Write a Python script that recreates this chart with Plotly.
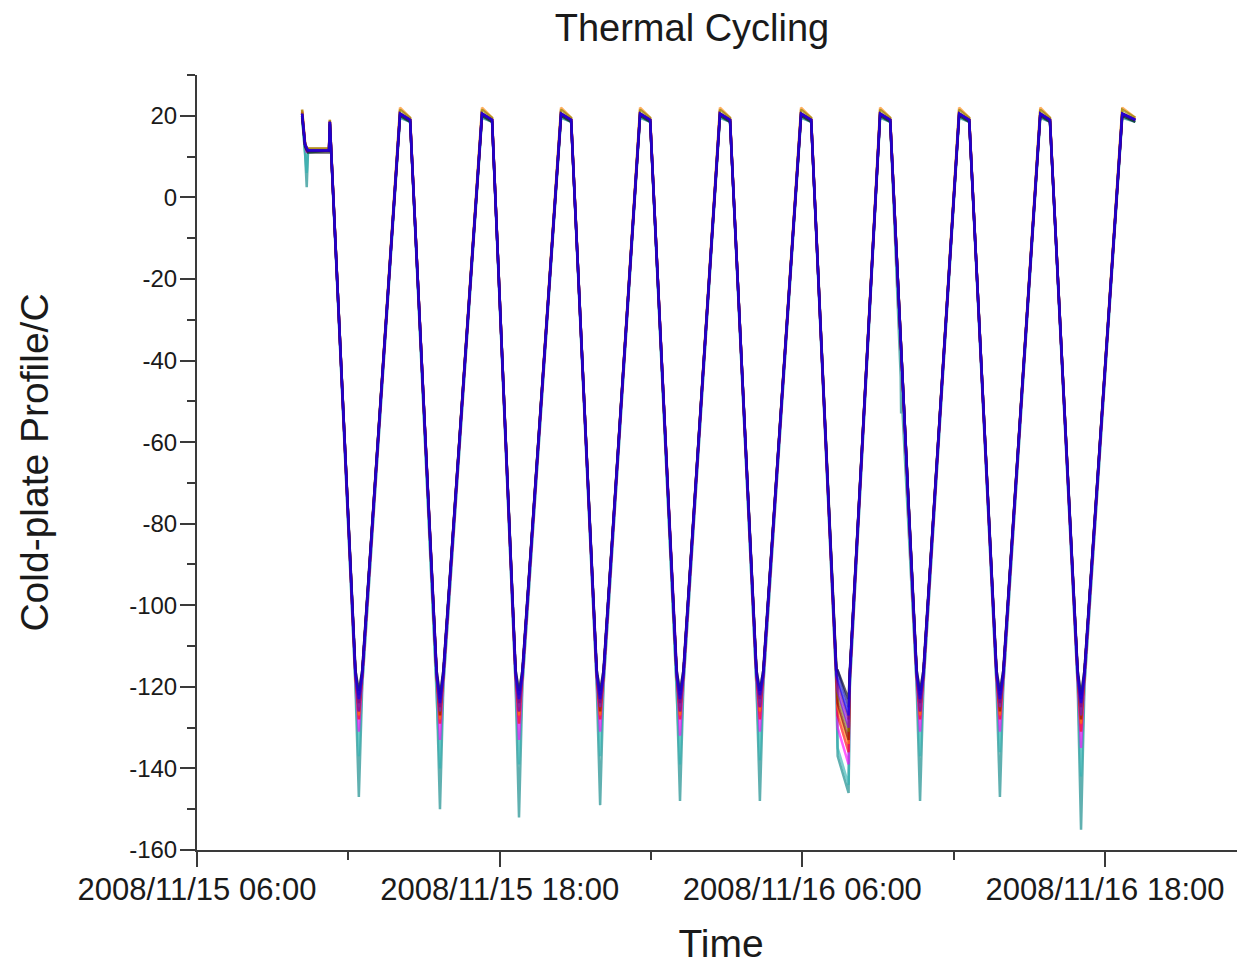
import pandas as pd
import plotly.graph_objects as go

# ---------------- data ----------------
start_times = ["2008-11-15 10:10", "2008-11-15 10:17", "2008-11-15 10:21",
               "2008-11-15 10:24", "2008-11-15 11:14", "2008-11-15 11:16"]

trough_times = ["2008-11-15 12:25", "2008-11-15 15:38", "2008-11-15 18:46",
                "2008-11-15 21:59", "2008-11-16 01:09", "2008-11-16 04:19",
                "2008-11-16 07:37", "2008-11-16 10:40", "2008-11-16 13:50",
                "2008-11-16 17:03"]
trough_knee_min = [8, 8, 8, 8, 8, 8, 3, 8, 8, 8]      # minutes from knee to minimum
trough_hold_min = [0, 0, 0, 0, 0, 0, 26, 0, 0, 0]     # minutes spent near minimum
trough_hold_drift = [0, 0, 0, 0, 0, 0, 9, 0, 0, 0]    # degrees drifted while held

peak_start_times = ["2008-11-15 14:03", "2008-11-15 17:18", "2008-11-15 20:26",
                    "2008-11-15 23:34", "2008-11-16 02:44", "2008-11-16 05:57",
                    "2008-11-16 09:05", "2008-11-16 12:13", "2008-11-16 15:26",
                    "2008-11-16 18:41"]
peak_end_times = ["2008-11-15 14:27", "2008-11-15 17:42", "2008-11-15 20:50",
                  "2008-11-15 23:58", "2008-11-16 03:08", "2008-11-16 06:21",
                  "2008-11-16 09:29", "2008-11-16 12:37", "2008-11-16 15:49",
                  "2008-11-16 19:12"]

# channels drawn bottom -> top
ch_names = ["Teal", "Cyan", "Magenta", "Red", "Orange", "Wine",
            "Olive", "Violet", "Black", "Navy", "Purple", "Blue"]
ch_colors = ["#008080", "#2FB2B2", "#FF00FF", "#FF0000", "#FF8000", "#800000",
             "#808000", "#8000FF", "#000000", "#000080", "#800080", "#0000FF"]
ch_start = [
    [20.0, 11.0, 2.5, 11.0, 11.5, 18.0],
    [19.5, 12.0, 6.0, 11.5, 11.5, 18.0],
    [21.0, 13.0, 11.0, 11.5, 11.5, 18.5],
    [21.0, 13.0, 12.0, 11.5, 11.5, 18.5],
    [21.5, 13.5, 12.0, 12.0, 12.0, 19.0],
    [20.5, 13.0, 12.0, 11.5, 11.5, 18.5],
    [21.5, 13.5, 12.0, 12.0, 12.0, 19.0],
    [20.5, 13.0, 12.0, 11.5, 11.5, 18.5],
    [20.0, 12.5, 11.5, 11.0, 11.0, 18.0],
    [20.5, 13.0, 12.0, 11.5, 11.5, 18.5],
    [20.5, 13.0, 12.0, 11.5, 11.5, 18.5],
    [20.5, 13.0, 12.0, 11.5, 11.5, 18.5],
]
ch_peak_hi = [19.5, 20.0, 20.5, 20.5, 22.0, 20.5, 21.5, 20.5, 20.0, 20.5, 20.5, 20.5]
ch_peak_lo = [18.5, 18.5, 19.0, 19.0, 19.5, 19.0, 19.5, 19.0, 18.5, 19.0, 19.0, 19.0]
ch_knee = [-120, -119, -118, -117, -117, -117, -117, -117, -116, -116, -117, -117]
ch_mins = [
    [-147, -150, -152, -149, -148, -148, -146, -148, -147, -155],
    [-137, -140, -139, -137, -139, -138, -144, -137, -136, -142],
    [-131, -133, -133, -131, -132, -131, -139, -131, -131, -135],
    [-128, -129, -129, -128, -128, -128, -136, -128, -128, -131],
    [-127, -128, -127, -127, -127, -126, -134, -127, -127, -129],
    [-126, -127, -126, -126, -126, -125, -133, -126, -126, -128],
    [-125, -126, -125, -125, -125, -124, -131, -125, -125, -127],
    [-126, -126, -126, -125, -126, -125, -130, -126, -125, -127],
    [-121, -122, -121, -121, -121, -121, -123, -121, -121, -122],
    [-122, -123, -122, -122, -122, -121, -125, -122, -122, -123],
    [-124, -125, -124, -124, -124, -123, -128, -124, -124, -125],
    [-123, -124, -123, -123, -123, -122, -127, -123, -123, -124],
]
# small sensor excursion on the 8th descent (teal channel)
glitch_times = ["2008-11-16 09:54", "2008-11-16 09:55", "2008-11-16 09:56"]
glitch_vals = [-44, -53, -48]
glitch_channel = "Teal"

x_range = ["2008-11-15 06:00", "2008-11-16 23:33"]
y_range = [-160, 30]
y_tick_vals = [-160, -140, -120, -100, -80, -60, -40, -20, 0, 20]
y_tick_text = ["-160", "-140", "-120", "-100", "-80", "-60", "-40", "-20", "0", "20"]

# ---------------- figure ----------------
fig = go.Figure()
for k in range(len(ch_names)):
    xs = [pd.Timestamp(t) for t in start_times]
    ys = list(ch_start[k])
    for i in range(len(trough_times)):
        t = pd.Timestamp(trough_times[i])
        half = pd.Timedelta(minutes=trough_hold_min[i] / 2)
        knee = pd.Timedelta(minutes=trough_knee_min[i])
        low = ch_mins[k][i]
        if trough_hold_min[i] > 0:
            first = min(low + trough_hold_drift[i], ch_knee[k])
            xs += [t - half - knee, t - half, t + half, t + half + knee]
            ys += [ch_knee[k], first, low, ch_knee[k]]
        else:
            xs += [t - knee, t, t + knee]
            ys += [ch_knee[k], low, ch_knee[k]]
        xs += [pd.Timestamp(peak_start_times[i]), pd.Timestamp(peak_end_times[i])]
        ys += [ch_peak_hi[k], ch_peak_lo[k]]
    if ch_names[k] == glitch_channel:
        xs += [pd.Timestamp(t) for t in glitch_times]
        ys += glitch_vals
    pts = sorted(zip(xs, ys), key=lambda p: p[0])
    fig.add_trace(go.Scatter(x=[p[0] for p in pts], y=[p[1] for p in pts],
                             mode="lines", name=ch_names[k],
                             line=dict(color=ch_colors[k], width=2.5),
                             opacity=0.62,
                             showlegend=False, hoverinfo="skip"))

font_family = "Liberation Sans, Arial, sans-serif"
axis_color = "#3a3a3a"
text_color = "#1a1a1a"

# the page places the figure 8 px from the top-left corner
W, H = 1237, 957

fig.update_layout(
    width=W, height=H,
    margin=dict(l=189, r=0, t=67, b=115),
    paper_bgcolor="white", plot_bgcolor="white",
    font=dict(family=font_family, color=text_color),
    title=dict(text="Thermal Cycling", x=(692 - 8) / W, y=1 - (28 - 8) / H,
               xref="container", yref="container",
               xanchor="center", yanchor="middle",
               font=dict(size=38, family=font_family, color=text_color)),
    showlegend=False,
)

fig.update_xaxes(
    type="date", range=x_range, autorange=False,
    tick0="2008-11-15 06:00", dtick=12 * 3600 * 1000,
    tickformat="%Y/%m/%d %H:%M",
    tickfont=dict(size=31, family=font_family, color=text_color),
    ticklabelstandoff=-4,
    showline=True, linecolor=axis_color, linewidth=2,
    ticks="outside", ticklen=15, tickwidth=2, tickcolor=axis_color,
    minor=dict(dtick=6 * 3600 * 1000, ticks="outside", ticklen=8,
               tickwidth=2, tickcolor=axis_color, showgrid=False),
    showgrid=False, zeroline=False, automargin=False,
    title=dict(text="Time", font=dict(size=39, family=font_family, color=text_color),
               standoff=24),
)
fig.update_yaxes(
    range=y_range, autorange=False,
    tickmode="array", tickvals=y_tick_vals, ticktext=y_tick_text,
    tickfont=dict(size=24, family=font_family, color=text_color),
    ticklabelstandoff=-2,
    showline=True, linecolor=axis_color, linewidth=2,
    ticks="outside", ticklen=15, tickwidth=2, tickcolor=axis_color,
    minor=dict(dtick=10, tick0=0, ticks="outside", ticklen=8,
               tickwidth=2, tickcolor=axis_color, showgrid=False),
    showgrid=False, zeroline=False, automargin=False,
    title=dict(text="Cold-plate Profile/C",
               font=dict(size=39, family=font_family, color=text_color),
               standoff=69),
)

fig.write_html("out.html")
